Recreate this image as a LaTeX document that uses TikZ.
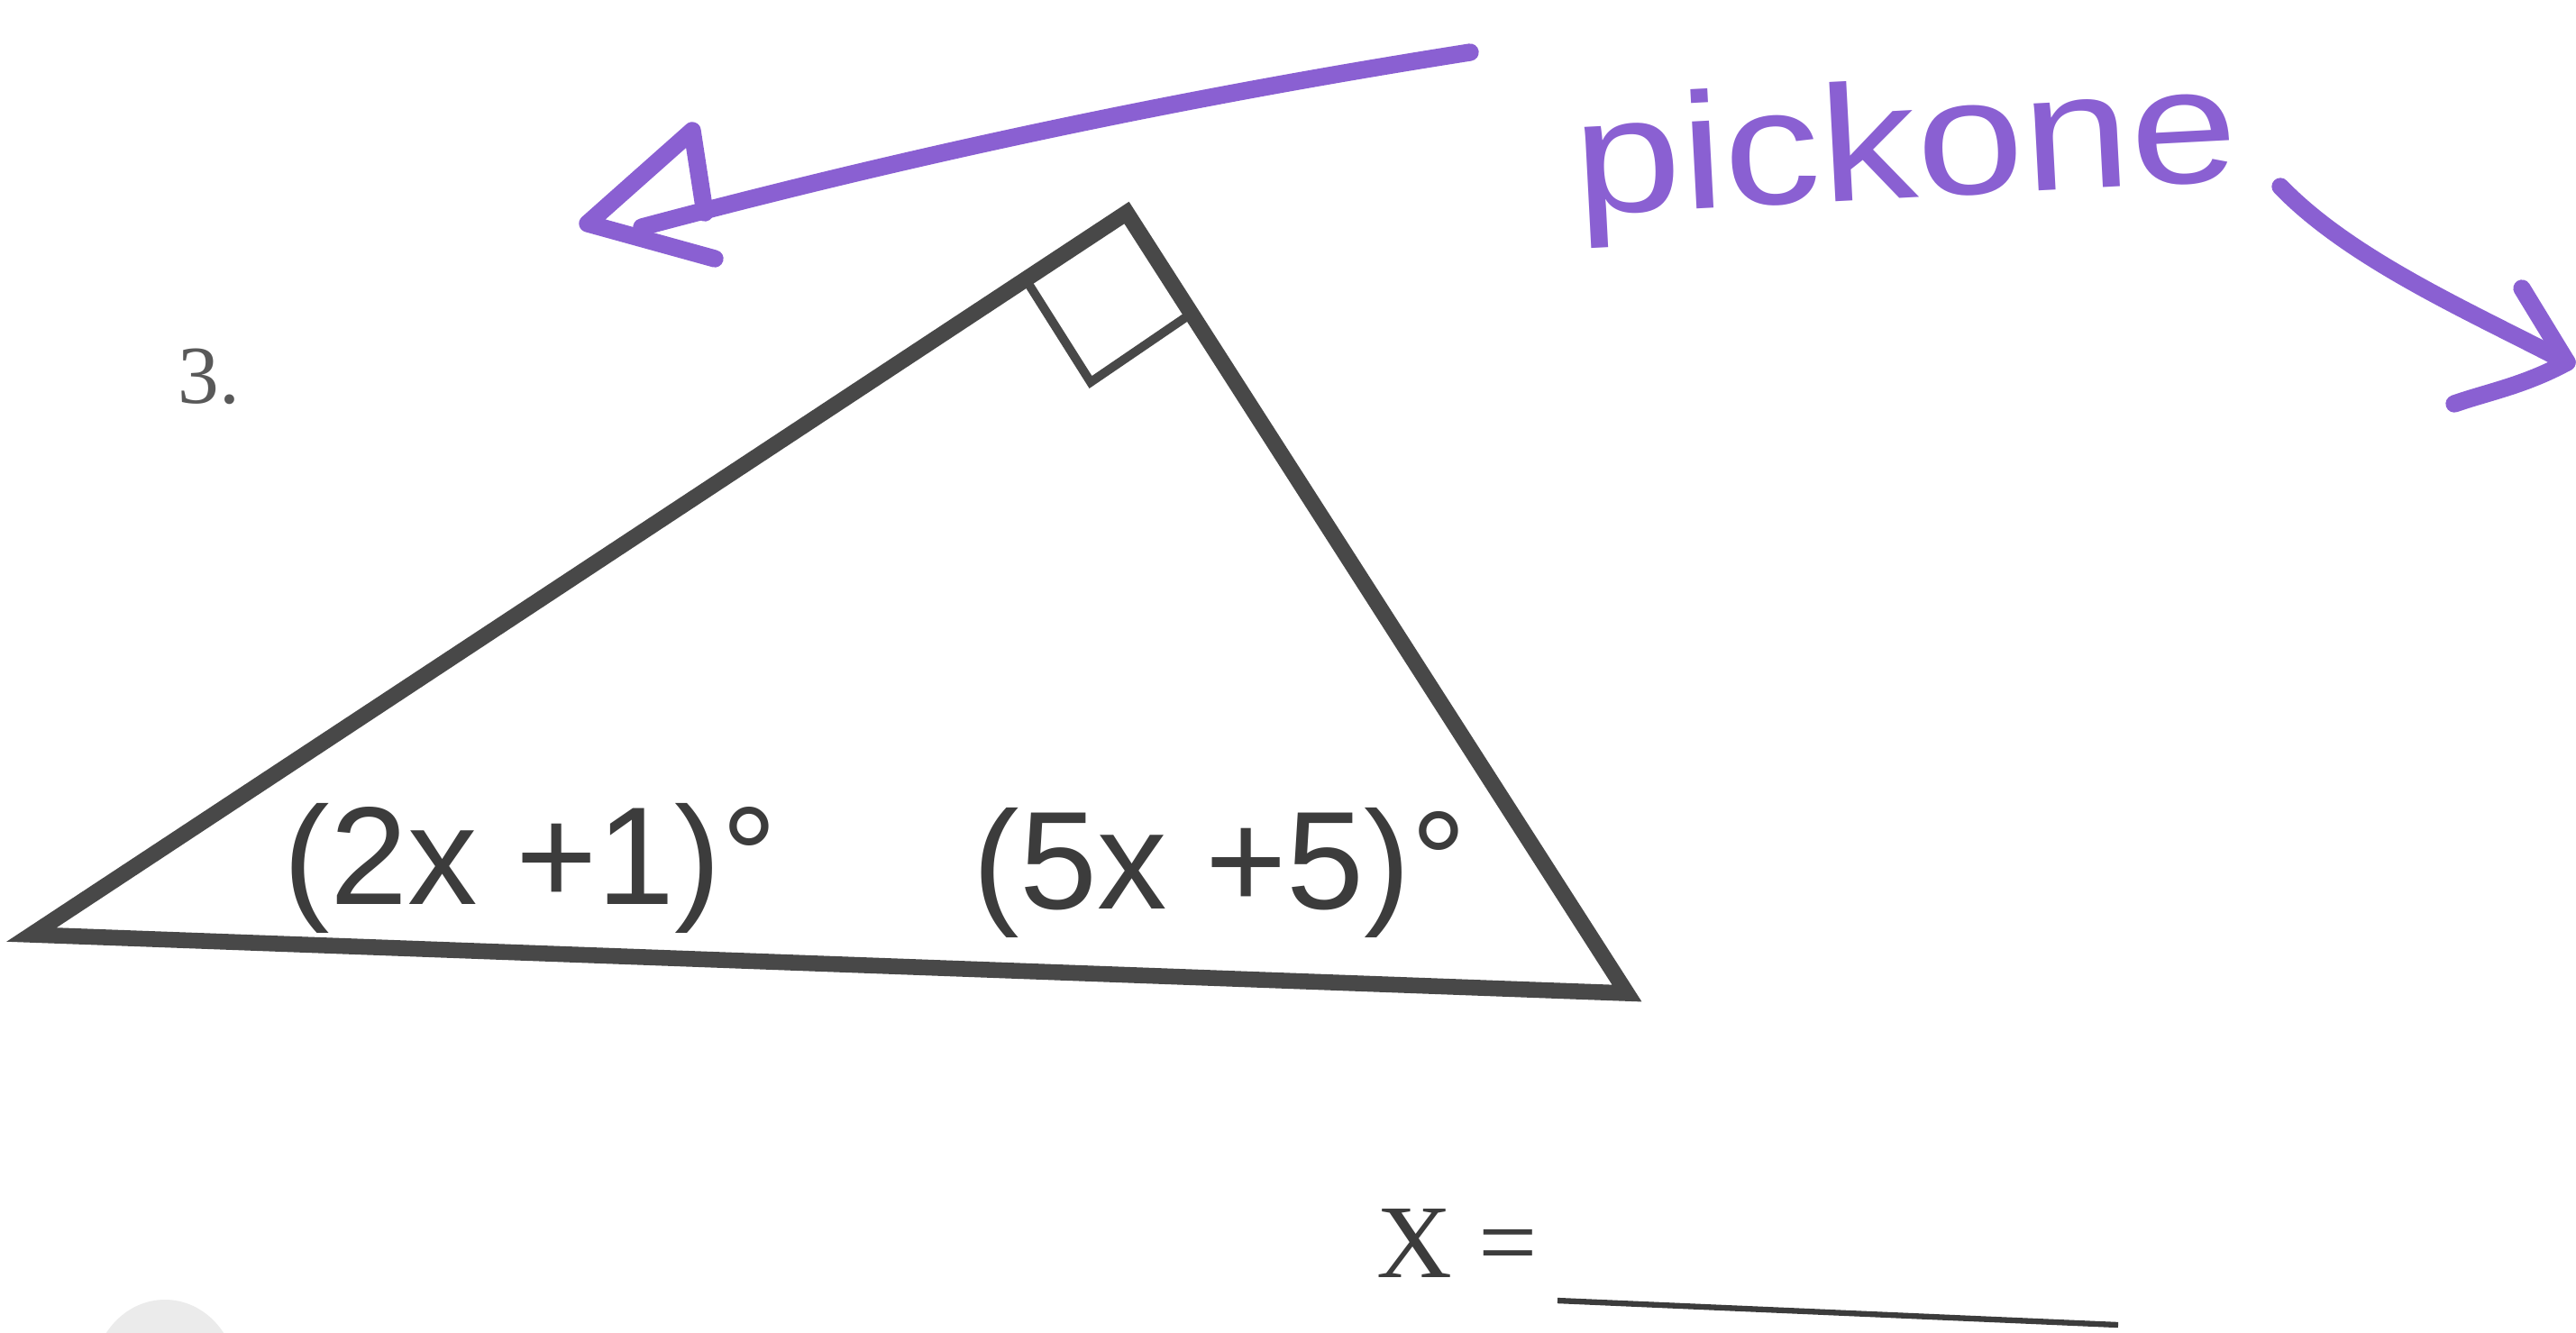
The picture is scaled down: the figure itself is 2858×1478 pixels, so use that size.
\documentclass[tikz,border=0pt]{standalone}
\usepackage{fontspec}
\setmainfont{Liberation Serif}
\newfontfamily\arialf{Liberation Sans}
\definecolor{pen}{RGB}{138,96,210}
\definecolor{ink}{RGB}{72,72,72}
\definecolor{print}{RGB}{60,60,60}
\tikzset{
  side/.style={draw=ink, line width=5pt, line join=miter},
  marker/.style={draw=ink, line width=2.8pt, line join=miter},
  penline/.style={draw=pen, line width=5.5pt, line cap=round, line join=round},
  angtext/.style={inner sep=0pt, anchor=base west, text=print, font=\arialf\fontsize{44}{48}\selectfont},
  serif/.style={inner sep=0pt, anchor=base west, text=print},
}
\begin{document}
\begin{tikzpicture}[x=0.01cm,y=-0.01cm]
\useasboundingbox (0,0) rectangle (2858,1478);
% triangle
\coordinate (L) at (35,1037);
\coordinate (T) at (1250,236);
\coordinate (R) at (1805,1102);
\draw[side] (L) -- (T) -- (R) -- cycle;
% right-angle mark
\coordinate (ma) at (1138,310);
\coordinate (mc) at (1210,424);
\coordinate (mb) at (1320,349);
\draw[marker] (ma) -- (mc) -- (mb);
% labels
\node[serif, font=\fontsize{26}{28}\selectfont, text=black!65] (num) at (197,447) {3.};
\node[angtext] (a1) at (314,1003) {(2x +1)°};
\node[angtext] (a2) at (1079,1008) {(5x +5)°};
\node[serif, font=\fontsize{33}{36}\selectfont] (xeq) at (1527,1417) {X =};
\coordinate (u1) at (1728,1443);
\coordinate (u2) at (2350,1470);
\draw[draw=print, line width=1.8pt] (u1) -- (u2);
% handwritten note
\node[inner sep=0pt, text=pen, font=\arialf\fontsize{52}{56}\selectfont] (pick) at (2115,172) {\rotatebox{3}{\scalebox{1.17}[1]{pickone}}};
% left arrow
\coordinate (ls) at (1631,58);
\coordinate (le) at (712,252);
\coordinate (lt) at (652,248);
\coordinate (lh1) at (768,145);
\coordinate (lh2) at (793,287);
\coordinate (lh3) at (782,236);
\draw[penline] (ls) .. controls (1300,110) and (1000,175) .. (le);
\draw[penline] (lh3) -- (lh1) -- (lt) -- (lh2);
% right arrow
\coordinate (rs) at (2530,207);
\coordinate (rt) at (2848,402);
\coordinate (rh1) at (2798,320);
\coordinate (rh2) at (2723,448);
\draw[penline] (rs) .. controls (2610,290) and (2750,350) .. (rt);
\draw[penline] (rh1) -- (rt) .. controls (2800,428) and (2760,435) .. (rh2);
% paper hole shadow
\begin{scope}
\clip (0,1420) rectangle (400,1478);
\fill[black!8] (183,1530) ellipse (80 and 88);
\draw[black!35, line width=1.5pt] (103,1530) arc (180:0:80 and 88);
\end{scope}
\end{tikzpicture}
\end{document}
